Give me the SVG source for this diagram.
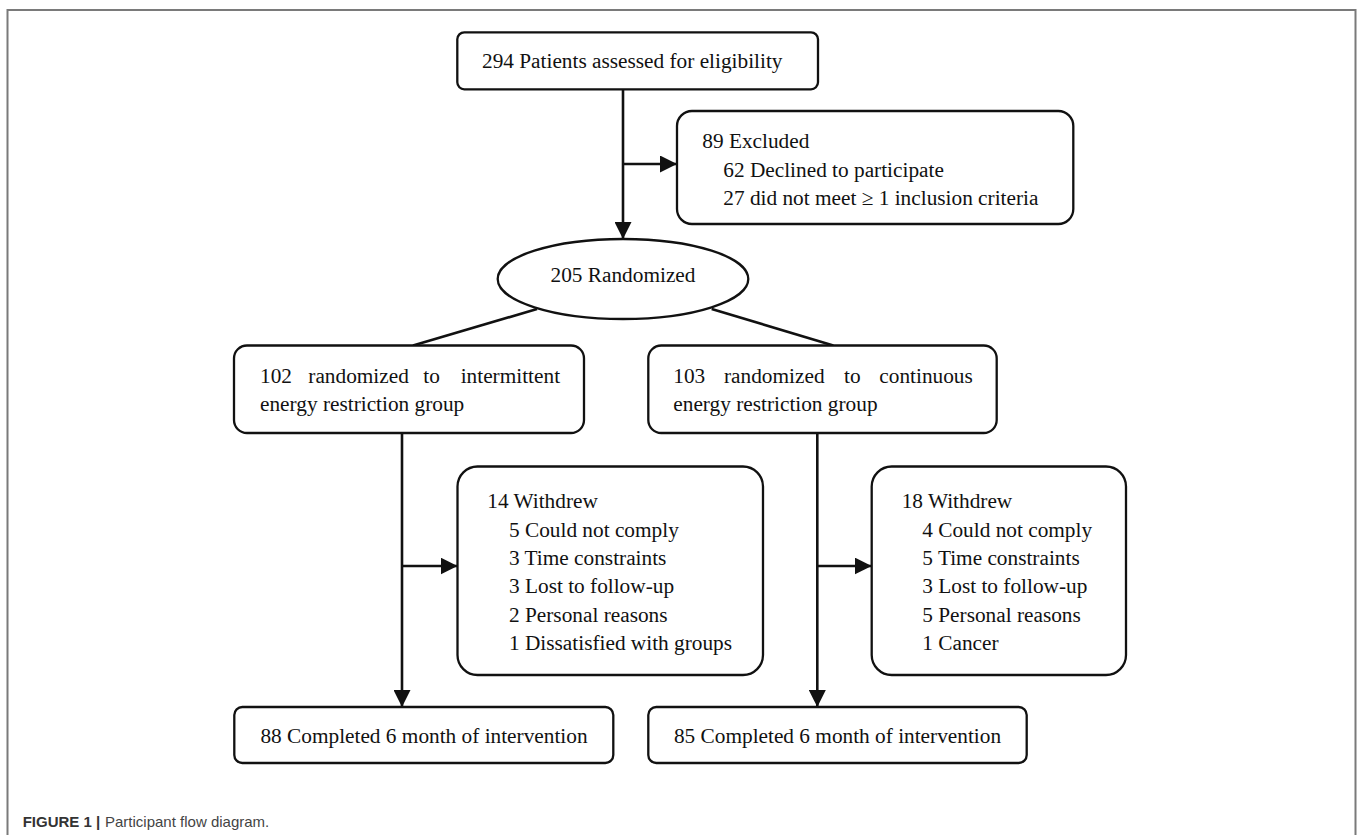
<svg xmlns="http://www.w3.org/2000/svg" width="1357" height="835" viewBox="0 0 1357 835">
<style>
.box{fill:#fff;stroke:#111;stroke-width:2.3}
.t{font-family:"Liberation Serif","Times New Roman",serif;font-size:21.3px;fill:#111}
.c{stroke:#111;stroke-width:2.6;fill:none}
.frame{stroke:#7a7a7a;stroke-width:2;fill:none}
.cap{font-family:"Liberation Sans",Arial,sans-serif;font-size:15px}
</style>
<defs>
<marker id="ah" markerUnits="userSpaceOnUse" markerWidth="17" markerHeight="17" refX="17" refY="8.5" orient="auto">
<path d="M0,0 L17,8.5 L0,17 Z" fill="#111"/>
</marker>
</defs>
<rect width="1357" height="835" fill="#fff"/>
<path class="frame" d="M7.5,835 L7.5,10 L1355.5,10 L1355.5,835"/>

<g id="connectors">
<line class="c" x1="623" y1="89" x2="623" y2="239" marker-end="url(#ah)"/>
<line class="c" x1="623" y1="164" x2="677" y2="164" marker-end="url(#ah)"/>
<line class="c" x1="537" y1="309" x2="413" y2="345.5"/>
<line class="c" x1="711.7" y1="309" x2="833.3" y2="345.5"/>
<line class="c" x1="402" y1="433" x2="402" y2="707" marker-end="url(#ah)"/>
<line class="c" x1="402" y1="566" x2="457.5" y2="566" marker-end="url(#ah)"/>
<line class="c" x1="817.3" y1="433" x2="817.3" y2="707" marker-end="url(#ah)"/>
<line class="c" x1="817.3" y1="566" x2="871.7" y2="566" marker-end="url(#ah)"/>
</g>

<g id="assessed">
<rect class="box" x="457.3" y="32.3" width="360.7" height="57" rx="7"/>
<text class="t" x="482" y="68.3">294 Patients assessed for eligibility</text>
</g>

<g id="excluded">
<rect class="box" x="677" y="111" width="396.3" height="113" rx="15"/>
<text class="t" x="702.3" y="148.3">89 Excluded</text>
<text class="t" x="723.3" y="176.7">62 Declined to participate</text>
<text class="t" x="723.3" y="205">27 did not meet ≥ 1 inclusion criteria</text>
</g>

<g id="randomized">
<ellipse class="box" cx="623" cy="279" rx="125.3" ry="40"/>
<text class="t" x="623" y="282" text-anchor="middle">205 Randomized</text>
</g>

<g id="ier">
<rect class="box" x="234" y="345.5" width="350" height="87.5" rx="13"/>
<text class="t" y="383"><tspan x="260">102</tspan><tspan x="308.3">randomized</tspan><tspan x="423.3">to</tspan><tspan x="460.7">intermittent</tspan></text>
<text class="t" x="260" y="411">energy restriction group</text>
</g>

<g id="cer">
<rect class="box" x="648.3" y="345.5" width="348.4" height="87.5" rx="13"/>
<text class="t" y="383"><tspan x="673.3">103</tspan><tspan x="724">randomized</tspan><tspan x="844">to</tspan><tspan x="879.3">continuous</tspan></text>
<text class="t" x="673.3" y="411">energy restriction group</text>
</g>

<g id="withdrew-ier">
<rect class="box" x="457.5" y="466.5" width="305.5" height="208.5" rx="20"/>
<text class="t" x="487.3" y="508.3">14 Withdrew</text>
<text class="t" x="509" y="536.7">5 Could not comply</text>
<text class="t" x="509" y="565">3 Time constraints</text>
<text class="t" x="509" y="593.3">3 Lost to follow-up</text>
<text class="t" x="509" y="621.7">2 Personal reasons</text>
<text class="t" x="509" y="650">1 Dissatisfied with groups</text>
</g>

<g id="withdrew-cer">
<rect class="box" x="871.7" y="466.5" width="254.3" height="208.5" rx="20"/>
<text class="t" x="901.7" y="508.3">18 Withdrew</text>
<text class="t" x="922.3" y="536.7">4 Could not comply</text>
<text class="t" x="922.3" y="565">5 Time constraints</text>
<text class="t" x="922.3" y="593.3">3 Lost to follow-up</text>
<text class="t" x="922.3" y="621.7">5 Personal reasons</text>
<text class="t" x="922.3" y="650">1 Cancer</text>
</g>

<g id="completed-ier">
<rect class="box" x="234.3" y="707" width="379" height="56" rx="8"/>
<text class="t" x="424" y="742.5" text-anchor="middle">88 Completed 6 month of intervention</text>
</g>

<g id="completed-cer">
<rect class="box" x="648.3" y="707" width="378.4" height="56" rx="8"/>
<text class="t" x="837.5" y="742.5" text-anchor="middle">85 Completed 6 month of intervention</text>
</g>

<g id="caption">
<text class="cap" x="22.7" y="827" font-weight="bold" fill="#333">FIGURE 1 |</text>
<text class="cap" x="105" y="827" fill="#444">Participant flow diagram.</text>
</g>
</svg>
